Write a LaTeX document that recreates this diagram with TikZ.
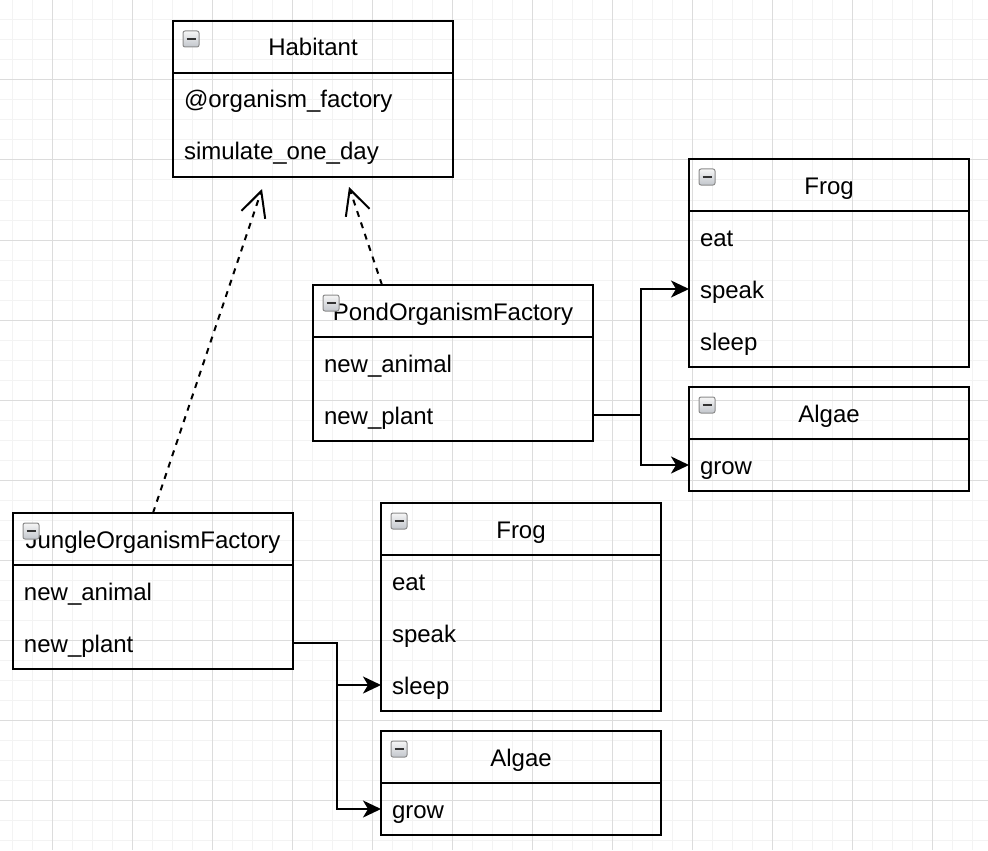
\documentclass[tikz,border=0pt]{standalone}
\usepackage{fontspec}
\setmainfont{Liberation Sans}
\usetikzlibrary{arrows.meta,calc}
\definecolor{gridminor}{HTML}{F3F3F3}
\definecolor{gridmajor}{HTML}{DCDCDC}
\definecolor{iconedge}{HTML}{8C8C8C}
\definecolor{icontop}{HTML}{F6F6F6}
\definecolor{iconbot}{HTML}{C2C6CC}
\definecolor{iconbar}{HTML}{333333}
\tikzset{
  txt/.style={font=\fontsize{12pt}{14pt}\selectfont, text height=10.5pt, text depth=1.5pt, inner ysep=0pt, outer sep=0pt},
  hdr/.style={txt, anchor=north west, minimum width=140pt, minimum height=26pt, inner xsep=0pt},
  row/.style={txt, anchor=north west, minimum width=140pt, minimum height=26pt, inner xsep=5.5pt, text width=129pt, align=left},
  frame/.style={draw=black, line width=1pt},
  conn/.style={line width=1pt, -{Stealth[length=9pt,width=8.5pt,inset=2.5pt]}},
  realize/.style={line width=1pt, dash pattern=on 3pt off 3pt, -{Straight Barb[length=12.5pt,width=12.5pt]}},
  gminor/.style={draw=gridminor, line width=0.5pt},
  gmajor/.style={draw=gridmajor, line width=0.5pt},
}
\newcommand\clsicon[2]{%
  \draw[iconedge, line width=0.5pt, top color=icontop, bottom color=iconbot, rounded corners=1pt] (#1,#2) rectangle ++(16,16);
  \draw[iconbar, line width=1.1pt] ({#1+3.5},{#2+8}) -- ({#1+12.5},{#2+8});
}
\newcommand\umlclass[6]{%
  \node[hdr] (#1) at (#2,#3) {#4};
  \foreach \t [count=\i] in {#6} {\node[row] (#1-\i) at (#2,{#3+52*\i}) {\t};}
  \draw[frame] (#1.north west) rectangle (#1-#5.south east);
  \draw[frame] (#1.south west) -- (#1.south east);
  \clsicon{#2+10}{#3+10}
}
\begin{document}
\begin{tikzpicture}[x=0.5pt,y=-0.5pt]
  \fill[white] (0,0) rectangle (988,850);
  \useasboundingbox (0,0) rectangle (988,850);
  % grid
  \foreach \x in {12,32,...,972} \draw[gminor] (\x,0) -- (\x,850);
  \foreach \y in {20,40,...,840} \draw[gminor] (0,\y) -- (988,\y);
  \foreach \x in {52,132,...,932} \draw[gmajor] (\x,0) -- (\x,850);
  \foreach \y in {0,80,...,800} \draw[gmajor] (0,\y) -- (988,\y);
  % classes
  \umlclass{hab}{173}{21}{Habitant}{2}{@organism\_factory, simulate\_one\_day}
  \umlclass{pond}{313}{285}{PondOrganismFactory}{2}{new\_animal, new\_plant}
  \umlclass{frogA}{689}{159}{Frog}{3}{eat, speak, sleep}
  \umlclass{algaeA}{689}{387}{Algae}{1}{grow}
  \umlclass{jungle}{13}{513}{JungleOrganismFactory}{2}{new\_animal, new\_plant}
  \umlclass{frogB}{381}{503}{Frog}{3}{eat, speak, sleep}
  \umlclass{algaeB}{381}{731}{Algae}{1}{grow}
  % connectors
  \draw[conn] (pond-2.east) -| ($(pond-2.east)!.5!(frogA-2.west)$) |- (frogA-2.west);
  \draw[conn] (pond-2.east) -| ($(pond-2.east)!.5!(algaeA-1.west)$) |- (algaeA-1.west);
  \draw[conn] (jungle-2.east) -| ($(jungle-2.east)!.5!(frogB-3.west)$) |- (frogB-3.west);
  \draw[conn] (jungle-2.east) -| ($(jungle-2.east)!.5!(algaeB-1.west)$) |- (algaeB-1.west);
  % realization arrows
  \coordinate (tipJ) at (262,189);
  \coordinate (tipP) at (349,187);
  \coordinate (pondtop) at (382,285);
  \draw[realize] (jungle.north) -- (tipJ);
  \draw[realize] (pondtop) -- (tipP);
\end{tikzpicture}
\end{document}
